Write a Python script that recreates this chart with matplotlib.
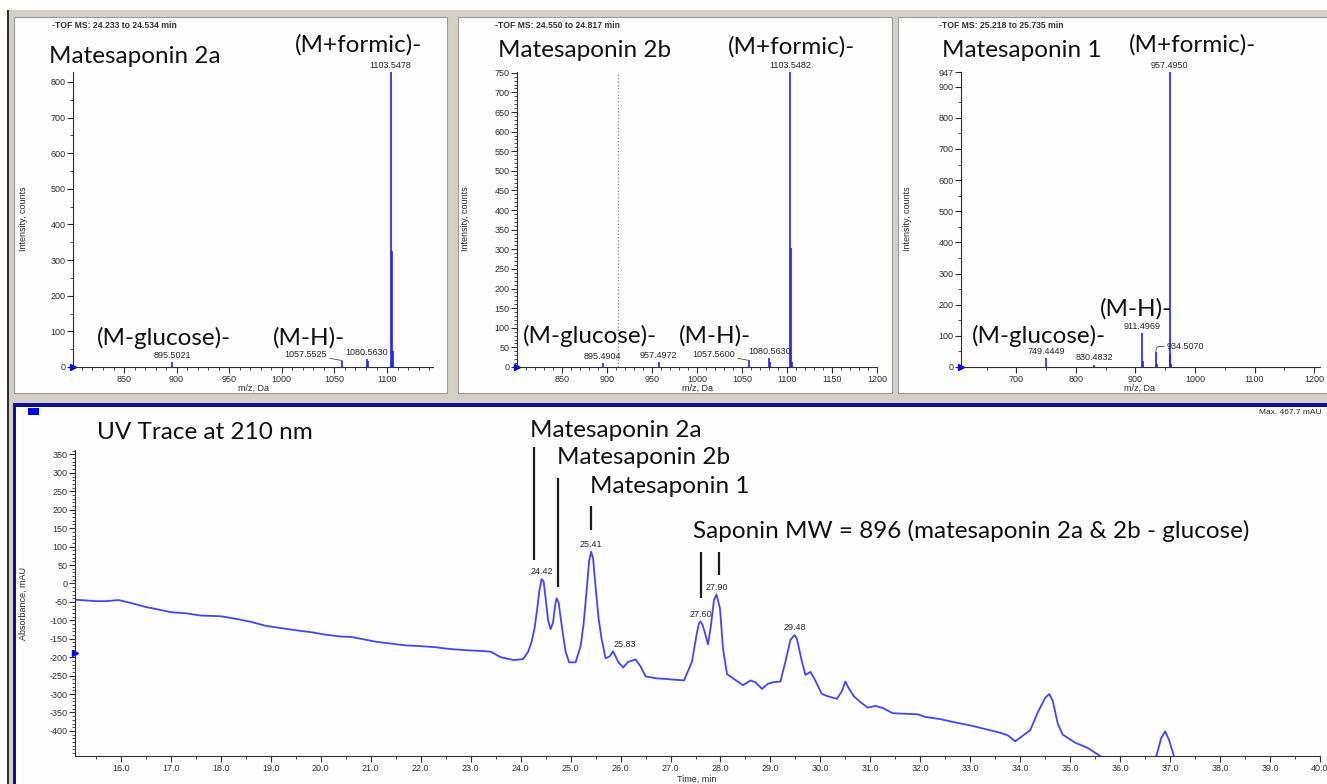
import numpy as np
import matplotlib.pyplot as plt
from matplotlib.patches import Rectangle
from matplotlib.ticker import MultipleLocator

plt.rcParams['axes.unicode_minus'] = False
plt.rcParams['font.family'] = ['Liberation Sans', 'DejaVu Sans']

W, H = 1327, 784

# mass spectra (m/z, counts)
mz_2a = [895.50, 1057.55, 1080.56, 1081.56, 1103.55, 1104.55, 1105.55]
int_2a = [14, 18, 23, 16, 828, 325, 45]
lab_2a = ["895.5021", "1080.5630", "1103.5478"]

mz_2b = [895.49, 957.50, 1057.56, 1080.56, 1081.56, 1103.55, 1104.55, 1105.55]
int_2b = [10, 13, 17, 23, 12, 752, 303, 14]
lab_2b = ["895.4904", "957.4972", "1080.5630", "1103.5482"]

mz_1 = [749.44, 830.48, 911.50, 912.50, 934.51, 935.51, 957.50, 958.50, 959.50]
int_1 = [29, 8, 109, 18, 48, 10, 947, 43, 10]
lab_1 = ["749.4449", "830.4832", "911.4969", "957.4950"]

# UV trace at 210 nm
time = [15.08, 15.3, 15.5, 15.7, 15.95, 16.2, 16.5, 16.8, 17.0, 17.3, 17.6, 18.0,
        18.3, 18.6, 18.9, 19.2, 19.5, 19.8, 20.1, 20.4, 20.6, 20.8, 21.1, 21.4,
        21.7, 22.0, 22.3, 22.6, 22.9, 23.2, 23.4, 23.6, 23.87, 24.05, 24.15, 24.22,
        24.28, 24.33, 24.38, 24.42, 24.46, 24.5, 24.55, 24.6, 24.65, 24.69, 24.72, 24.76,
        24.83, 24.9, 24.97, 25.1, 25.2, 25.26, 25.32, 25.37, 25.41, 25.45, 25.5, 25.56,
        25.62, 25.7, 25.78, 25.85, 25.95, 26.05, 26.15, 26.3, 26.4, 26.5,
        26.7, 27.0, 27.27, 27.43, 27.52, 27.57, 27.6, 27.64, 27.68, 27.75, 27.81, 27.87,
        27.92, 27.99, 28.05, 28.13, 28.3, 28.45, 28.6, 28.7, 28.83, 28.95, 29.05, 29.2,
        29.3, 29.4, 29.48, 29.53, 29.63, 29.7, 29.8, 29.87, 30.03, 30.15, 30.33, 30.43,
        30.5, 30.57, 30.67, 30.8, 30.95, 31.1, 31.25, 31.45, 31.8, 31.95, 32.1, 32.4,
        32.7, 33.0, 33.3, 33.6, 33.75, 33.9, 34.05, 34.2, 34.35, 34.5, 34.58, 34.65,
        34.75, 34.85, 35.1, 35.35, 35.6, 35.8, 36.5, 36.72, 36.82, 36.9, 36.98, 37.08,
        37.3, 40.0]
absorb = [-44, -46, -48, -48, -45, -53, -64, -72, -78, -81, -87, -89,
          -96, -104, -115, -121, -127, -132, -139, -144, -145, -150, -158, -163,
          -168, -170, -173, -178, -181, -183, -185, -200, -208, -205, -185, -158,
          -120, -70, -15, 12, 5, -40, -100, -124, -105, -60, -40, -52,
          -122, -185, -214, -214, -170, -110, -20, 60, 86, 68, -10, -95,
          -150, -203, -198, -184, -212, -228, -213, -206, -225, -252,
          -257, -260, -263, -212, -140, -108, -103, -112, -130, -165, -113, -45,
          -30, -68, -176, -246, -262, -276, -263, -268, -286, -272, -268, -266,
          -212, -153, -140, -150, -212, -248, -240, -256, -300, -306, -313, -292,
          -266, -285, -306, -322, -337, -332, -338, -352, -354, -355, -362, -368,
          -377, -385, -395, -405, -412, -428, -413, -398, -350, -310, -300, -318,
          -380, -410, -432, -446, -468, -490, -495, -470, -420, -401, -425, -470,
          -500, -520]
uv_labels = ["24.42", "25.41", "27.60", "27.90", "29.48"]

BIG = ['Lato', 'DejaVu Sans']
BIGSIZE = 17.5
SMALL = 6.5
TXT = '#2a2a2a'
BLUE = '#1f1fff'

fig = plt.figure(figsize=(W / 100, H / 100), dpi=100)


def box(x0, y0, x1, y1, color, ec='none', lw=0):
    fig.add_artist(Rectangle((x0 / W, 1 - y1 / H), (x1 - x0) / W, (y1 - y0) / H,
                             transform=fig.transFigure, facecolor=color,
                             edgecolor=ec, linewidth=lw, zorder=-10))


def ftext(x, y, s, **kw):
    fig.text(x / W, 1 - y / H, s, **kw)


def add_ax(l, t, r, b):
    ax = fig.add_axes([l / W, 1 - b / H, (r - l) / W, (b - t) / H])
    ax.set_facecolor('none')
    ax.spines['top'].set_visible(False)
    ax.spines['right'].set_visible(False)
    ax.spines['left'].set_color('#303030')
    ax.spines['bottom'].set_color('#303030')
    ax.tick_params(which='major', length=4, width=0.8, labelsize=SMALL,
                   colors='#303030', pad=1.5)
    ax.tick_params(which='minor', length=2, width=0.6, colors='#303030')
    return ax


# window frames
box(8, 10, W, H, '#d4d0c8')
box(7, 10, 9, H, '#303030')
box(14, 17, 447, 393, '#fdfdfd', ec='#9c9c9c', lw=0.8)
box(458, 17, 892, 393, '#fdfdfd', ec='#9c9c9c', lw=0.8)
box(898, 17, W + 2, 393, '#fdfdfd', ec='#9c9c9c', lw=0.8)
box(13, 403, W, H, '#10109a')
box(16, 407, W, H, '#fdfdfd')
box(28, 408, 39, 415, '#0000ee')


def spectrum(ax, mz, inten, labels, xlim, ylim):
    ax.vlines(mz, 0, inten, color=BLUE, lw=1.2)
    ax.set_xlim(*xlim)
    ax.set_ylim(*ylim)
    ax.plot([xlim[0]], [0], marker='>', color='#0000ff', ms=5, clip_on=False)
    for s in labels:
        m = float(s)
        i = int(np.argmin(np.abs(np.array(mz) - m)))
        ax.annotate(s, (mz[i], inten[i]), xytext=(0, 1.5), textcoords='offset points',
                    ha='center', va='bottom', fontsize=SMALL, color=TXT)


# panel 1 - matesaponin 2a
ax1 = add_ax(73, 72, 433, 367)
spectrum(ax1, mz_2a, int_2a, lab_2a, (801.5, 1143.7), (0, 828))
ax1.xaxis.set_major_locator(MultipleLocator(50))
ax1.xaxis.set_minor_locator(MultipleLocator(10))
ax1.yaxis.set_major_locator(MultipleLocator(100))
ax1.yaxis.set_minor_locator(MultipleLocator(50))
ax1.annotate("1057.5525", (mz_2a[1], int_2a[1]), xytext=(-11, 4.5), textcoords='offset points',
             ha='right', va='center', fontsize=SMALL, color=TXT,
             arrowprops=dict(arrowstyle='-', color='#555555', lw=0.6, shrinkA=0, shrinkB=0))

# panel 2 - matesaponin 2b
ax2 = add_ax(517, 72, 877, 367)
spectrum(ax2, mz_2b, int_2b, lab_2b, (800.3, 1200), (0, 752))
ax2.axvline(912, color='#888888', lw=0.9, ls=':')
ax2.xaxis.set_major_locator(MultipleLocator(50))
ax2.xaxis.set_minor_locator(MultipleLocator(10))
ax2.yaxis.set_major_locator(MultipleLocator(50))
ax2.yaxis.set_minor_locator(MultipleLocator(10))
ax2.annotate("1057.5600", (mz_2b[2], int_2b[2]), xytext=(-10, 4.5), textcoords='offset points',
             ha='right', va='center', fontsize=SMALL, color=TXT,
             arrowprops=dict(arrowstyle='-', color='#555555', lw=0.6, shrinkA=0, shrinkB=0))

# panel 3 - matesaponin 1
ax3 = add_ax(961, 72, 1320, 367)
spectrum(ax3, mz_1, int_1, lab_1, (607, 1210), (0, 947))
ax3.xaxis.set_major_locator(MultipleLocator(100))
ax3.xaxis.set_minor_locator(MultipleLocator(50))
ax3.set_yticks(list(range(0, 901, 100)) + [947])
ax3.yaxis.set_minor_locator(MultipleLocator(50))
ax3.annotate("934.5070", (mz_1[4], int_1[4]), xytext=(8, 4), textcoords='offset points',
             ha='left', va='center', fontsize=SMALL, color=TXT,
             arrowprops=dict(arrowstyle='-', color='#555555', lw=0.6, shrinkA=0, shrinkB=0,
                             connectionstyle='angle,angleA=0,angleB=90,rad=4'))

for ax, x0, xc in [(ax1, 23, 253), (ax2, 465, 697), (ax3, 908, 1140)]:
    ftext(x0, 219, 'Intensity, counts', rotation=90, ha='center', va='center',
          fontsize=SMALL, color=TXT)
    ftext(xc, 388, 'm/z, Da', ha='center', va='center', fontsize=SMALL, color=TXT)

ftext(52, 25, '-TOF MS: 24.233 to 24.534 min', fontsize=6.2, weight='bold', color='#333333', va='center')
ftext(495, 25, '-TOF MS: 24.550 to 24.817 min', fontsize=6.2, weight='bold', color='#333333', va='center')
ftext(939, 25, '-TOF MS: 25.218 to 25.735 min', fontsize=6.2, weight='bold', color='#333333', va='center')

big = dict(family=BIG, fontsize=BIGSIZE, color='#111111', va='baseline')
ftext(49, 63, 'Matesaponin 2a', **big)
ftext(295, 52, '(M+formic)-', **big)
ftext(97, 345, '(M-glucose)-', **big)
ftext(273, 345, '(M-H)-', **big)
ftext(498, 57, 'Matesaponin 2b', **big)
ftext(728, 54, '(M+formic)-', **big)
ftext(523, 343, '(M-glucose)-', **big)
ftext(679, 343, '(M-H)-', **big)
ftext(942, 57, 'Matesaponin 1', **big)
ftext(1129, 52, '(M+formic)-', **big)
ftext(1100, 316, '(M-H)-', **big)
ftext(972, 343, '(M-glucose)-', **big)

# UV trace
ax4 = add_ax(75, 450, 1320, 756)
ax4.plot(time, absorb, color='#4444ff', lw=1.3)
ax4.set_xlim(15.08, 40.0)
ax4.set_ylim(-468, 362)
ax4.xaxis.set_major_locator(MultipleLocator(1.0))
ax4.xaxis.set_minor_locator(MultipleLocator(0.5))
ax4.xaxis.set_major_formatter(lambda v, p: '%.1f' % v)
ax4.set_yticks(list(range(-400, 351, 50)))
ax4.yaxis.set_minor_locator(MultipleLocator(10))
ax4.plot([15.08], [-189], marker='>', color='#0000ff', ms=5, clip_on=False)
for s in uv_labels:
    t = float(s)
    i = int(np.argmin(np.abs(np.array(time) - t)))
    ax4.annotate(s, (time[i], absorb[i]), xytext=(0, 2), textcoords='offset points',
                 ha='center', va='bottom', fontsize=SMALL, color=TXT)
ax4.annotate('25.83', (25.85, -184), xytext=(0, 2), textcoords='offset points',
             ha='left', va='bottom', fontsize=SMALL, color=TXT)

# peak markers
ax4.vlines([24.27, 24.75, 25.41, 27.61, 27.97], [63, -10, 145, -40, 22],
           [370, 286, 210, 85, 85], color='#1a1a1a', lw=1.6, clip_on=False)

ftext(23, 603, 'Absorbance, mAU', rotation=90, ha='center', va='center', fontsize=SMALL, color=TXT)
ftext(697, 779, 'Time, min', ha='center', va='center', fontsize=SMALL, color=TXT)
ftext(1259, 413, 'Max. 467.7 mAU', fontsize=6, color=TXT, va='center')

ftext(97, 439, 'UV Trace at 210 nm', **big)
ftext(530, 437, 'Matesaponin 2a', **big)
ftext(557, 464, 'Matesaponin 2b', **big)
ftext(590, 493, 'Matesaponin 1', **big)
ftext(693, 538, 'Saponin MW = 896 (matesaponin 2a & 2b - glucose)', **big)

fig.savefig('out.png', dpi=100)
